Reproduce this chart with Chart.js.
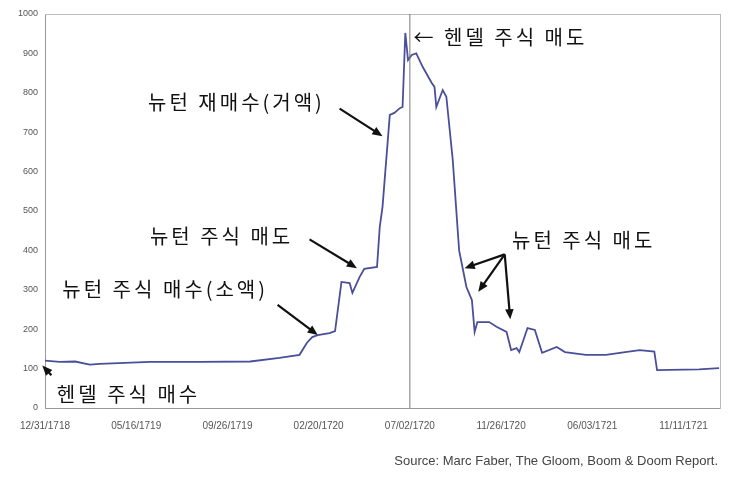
<!DOCTYPE html>
<html>
<head>
<meta charset="utf-8">
<script src="https://cdn.jsdelivr.net/npm/chart.js@4"></script>
<style>
  body { margin: 0; background: #fff; }
  #wrap { width: 730px; height: 479px; }
</style>
</head>
<body>
<div id="wrap"><canvas id="c" width="730" height="479"></canvas></div>
<script>
// 틱 라벨 (x축 단위 = 틱 간격)
const tickLabels = ['12/31/1718', '05/16/1719', '09/26/1719', '02/20/1720', '07/02/1720', '11/26/1720', '06/03/1721', '11/11/1721'];
const yTicks = [0, 100, 200, 300, 400, 500, 600, 700, 800, 900, 1000];

// 사우스시 주가
const xPos = [0, 0.16, 0.33, 0.49, 0.60, 1.15, 1.70, 2.25, 2.57, 2.79, 2.87, 2.93, 2.99, 3.12, 3.18,
  3.25, 3.34, 3.37, 3.45, 3.50, 3.64, 3.67, 3.70, 3.78, 3.83, 3.89, 3.92, 3.95, 3.98,
  4.02, 4.07, 4.14, 4.24, 4.27, 4.29, 4.36, 4.40, 4.47, 4.54, 4.62, 4.68, 4.71, 4.74,
  4.87, 4.95, 5.06, 5.11, 5.17, 5.20, 5.29, 5.37, 5.45, 5.61, 5.70, 5.93, 6.15, 6.36, 6.52, 6.68, 6.71, 6.85, 7.17, 7.39];
const price = [120, 117, 118, 110, 112, 117, 117, 118, 127, 135, 165, 180, 185, 190, 195,
  320, 317, 292, 333, 353, 358, 460, 510, 744, 749, 761, 764, 952, 883,
  896, 900, 866, 825, 815, 764, 807, 790, 630, 400, 307, 274, 193, 218,
  218, 206, 193, 147, 152, 142, 203, 198, 140, 155, 142, 135, 135, 142, 147, 143, 96, 97, 98, 101];

// 주석: [텍스트, x, y(값), 화살표들]
const notes = [
  { text: '← 헨델 주식 매도', x: 4.04, y: 940, arrows: [] },
  { text: '뉴턴 재매수(거액)', x: 1.13, y: 775, arrows: [[3.23, 760, 3.70, 690]] },
  { text: '뉴턴 주식 매도', x: 1.15, y: 435, arrows: [[2.90, 428, 3.42, 355]] },
  { text: '뉴턴 주식 매수(소액)', x: 0.19, y: 300, arrows: [[2.55, 262, 2.99, 185]] },
  { text: '헨델 주식 매수', x: 0.13, y: 35, arrows: [[0.07, 83, -0.03, 108]] },
  { text: '뉴턴 주식 매도', x: 5.12, y: 425, arrows: [[5.04, 390, 4.60, 355], [5.04, 390, 4.75, 295], [5.04, 390, 5.10, 225]] }
];

const notePlugin = {
  id: 'notes',
  afterDatasetsDraw(chart) {
    const { ctx, scales: { x, y }, chartArea } = chart;
    ctx.save();
    // 07/02/1720 세로선
    ctx.strokeStyle = '#777';
    ctx.lineWidth = 1;
    ctx.beginPath();
    ctx.moveTo(x.getPixelForValue(4), chartArea.top);
    ctx.lineTo(x.getPixelForValue(4), chartArea.bottom);
    ctx.stroke();

    ctx.fillStyle = '#111';
    ctx.strokeStyle = '#111';
    ctx.textBaseline = 'middle';
    notes.forEach(n => {
      ctx.font = '20px "Noto Sans CJK KR"';
      ctx.letterSpacing = '3px';
      ctx.fillText(n.text, x.getPixelForValue(n.x), y.getPixelForValue(n.y));
      n.arrows.forEach(a => {
        const x1 = x.getPixelForValue(a[0]), y1 = y.getPixelForValue(a[1]);
        const x2 = x.getPixelForValue(a[2]), y2 = y.getPixelForValue(a[3]);
        const ang = Math.atan2(y2 - y1, x2 - x1);
        ctx.lineWidth = 2.2;
        ctx.beginPath();
        ctx.moveTo(x1, y1);
        ctx.lineTo(x2 - 6 * Math.cos(ang), y2 - 6 * Math.sin(ang));
        ctx.stroke();
        ctx.beginPath();
        ctx.moveTo(x2, y2);
        ctx.lineTo(x2 - 11 * Math.cos(ang - 0.4), y2 - 11 * Math.sin(ang - 0.4));
        ctx.lineTo(x2 - 11 * Math.cos(ang + 0.4), y2 - 11 * Math.sin(ang + 0.4));
        ctx.closePath();
        ctx.fill();
      });
    });

    // 출처
    ctx.letterSpacing = '0px';
    ctx.fillStyle = '#444';
    ctx.font = '13px "Liberation Sans"';
    ctx.textAlign = 'right';
    ctx.fillText('Source: Marc Faber, The Gloom, Boom & Doom Report.', 718, 461);
    ctx.restore();
  }
};

new Chart(document.getElementById('c'), {
  type: 'line',
  data: {
    datasets: [{
      data: xPos.map((v, i) => ({ x: v, y: price[i] })),
      borderColor: '#4a4f9a',
      borderWidth: 1.8,
      pointRadius: 0,
      tension: 0
    }]
  },
  options: {
    responsive: false,
    animation: false,
    layout: { padding: { top: 14, right: 10, left: 0, bottom: 0 } },
    plugins: { legend: { display: false }, tooltip: { enabled: false } },
    scales: {
      x: {
        type: 'linear', min: 0, max: 7.4,
        afterFit(s) { s.height = 71; },
        afterBuildTicks(s) { s.ticks = tickLabels.map((t, i) => ({ value: i })); },
        grid: { display: false, drawTicks: true, tickLength: 4 },
        border: { color: '#999' },
        ticks: { color: '#555', font: { size: 10, family: 'Liberation Sans' }, maxRotation: 0, padding: 8,
          callback: v => tickLabels[v] }
      },
      y: {
        min: 0, max: 1000,
        afterFit(s) { s.width = 45; },
        afterBuildTicks(s) { s.ticks = yTicks.map(v => ({ value: v })); },
        grid: { display: false, tickLength: 4 },
        border: { color: '#999' },
        ticks: { color: '#555', font: { size: 9, family: 'Liberation Sans' }, padding: 3, callback: v => String(v) }
      },
      x2: { position: 'top', display: true, grid: { display: false }, ticks: { display: false }, border: { color: '#bbb' }, afterFit(s) { s.height = 0; } },
      y2: { position: 'right', display: true, grid: { display: false }, ticks: { display: false }, border: { color: '#bbb' }, afterFit(s) { s.width = 0; } }
    }
  },
  plugins: [notePlugin]
});
</script>
</body>
</html>
